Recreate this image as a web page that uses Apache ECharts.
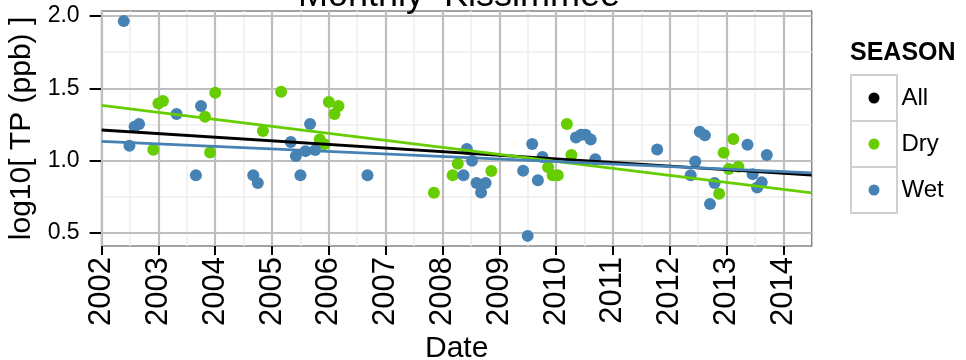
<!DOCTYPE html>
<html>
<head>
<meta charset="utf-8">
<script src="https://cdn.jsdelivr.net/npm/echarts@6/dist/echarts.min.js"></script>
<style>
  html, body { margin: 0; background: #fff; }
  #main { width: 966px; height: 360px; }
</style>
</head>
<body>
<div id="main"></div>
<script>
// tick labels
var yearTicks = [2002, 2003, 2004, 2005, 2006, 2007, 2008, 2009, 2010, 2011, 2012, 2013, 2014];
var yearMinor = [2002.5, 2003.5, 2004.5, 2005.5, 2006.5, 2007.5, 2008.5, 2009.5, 2010.5, 2011.5, 2012.5, 2013.5];
var tpTicks = [0.5, 1.0, 1.5, 2.0];
var tpMinor = [0.75, 1.25, 1.75];

// Wet season samples (decimal year, log10 TP)
var wetDates = [2002.39, 2002.49, 2002.58, 2002.66, 2003.32, 2003.66, 2003.75, 2004.67, 2004.75,
    2005.33, 2005.42, 2005.50, 2005.59, 2005.67, 2005.76, 2006.68,
    2008.37, 2008.43, 2008.52, 2008.60, 2008.68, 2008.76, 2009.42, 2009.50, 2009.58, 2009.68, 2009.76,
    2010.35, 2010.44, 2010.52, 2010.61, 2010.69, 2011.78,
    2012.37, 2012.45, 2012.53, 2012.62, 2012.71, 2012.79, 2013.37, 2013.46, 2013.54, 2013.62, 2013.71];
var wetValues = [1.965, 1.103, 1.234, 1.253, 1.322, 0.90, 1.378, 0.90, 0.845,
    1.129, 1.032, 0.90, 1.066, 1.253, 1.073, 0.90,
    0.90, 1.08, 1.00, 0.845, 0.78, 0.845, 0.93, 0.48, 1.115, 0.865, 1.025,
    1.16, 1.18, 1.18, 1.147, 1.01, 1.078,
    0.90, 0.995, 1.20, 1.175, 0.70, 0.845, 1.11, 0.907, 0.815, 0.85, 1.04];

// Dry season samples
var dryDates = [2002.91, 2003.00, 2003.08, 2003.82, 2003.91, 2004.00, 2004.84, 2005.16,
    2005.84, 2005.92, 2006.00, 2006.10, 2006.17,
    2007.85, 2008.18, 2008.27, 2008.86, 2009.86, 2009.94, 2010.03, 2010.19, 2010.27,
    2012.87, 2012.95, 2013.04, 2013.12, 2013.21];
var dryValues = [1.075, 1.396, 1.412, 1.304, 1.057, 1.47, 1.205, 1.477,
    1.147, 1.113, 1.405, 1.322, 1.378,
    0.778, 0.90, 0.979, 0.928, 0.954, 0.90, 0.90, 1.253, 1.039,
    0.771, 1.055, 0.942, 1.15, 0.958];

// linear trend ends
var trendAll = [[2002, 1.212], [2014.5, 0.900]];
var trendDry = [[2002, 1.382], [2014.5, 0.778]];
var trendWet = [[2002, 1.133], [2014.5, 0.916]];

var zip = function (xs, ys) {
    return xs.map(function (x, i) { return [x, ys[i]]; });
};

// grid lines, drawn as markLines so they can sit on any value
var minorLines = [];
yearMinor.forEach(function (v) { minorLines.push({ xAxis: v }); });
tpMinor.forEach(function (v) { minorLines.push({ yAxis: v }); });
var majorLines = [];
yearTicks.forEach(function (v) { majorLines.push({ xAxis: v }); });
tpTicks.forEach(function (v) { majorLines.push({ yAxis: v }); });

var myChart = echarts.init(document.getElementById('main'));

var option = {
    animation: false,
    textStyle: { fontFamily: 'Liberation Sans' },
    title: [{
        text: 'Monthly  Kissimmee',
        left: 454,
        top: -27,
        textAlign: 'center',
        textStyle: { fontSize: 36, fontWeight: 'normal', color: '#000' }
    }, {
        text: 'SEASON',
        left: 850,
        top: 41,
        padding: 0,
        textStyle: { fontSize: 25, fontWeight: 'bold', color: '#000' }
    }],
    legend: {
        orient: 'vertical',
        left: 868.5,
        top: 75,
        padding: 0,
        itemGap: 0,
        itemWidth: 11,
        itemHeight: 11,
        data: [
            { name: 'All', icon: 'circle' },
            { name: 'Dry', icon: 'circle' },
            { name: 'Wet', icon: 'circle' }
        ],
        textStyle: { fontSize: 24, color: '#000', lineHeight: 46, padding: [0, 0, 0, 17] }
    },
    graphic: [
        { type: 'rect', shape: { x: 851, y: 75, width: 46, height: 46 }, style: { fill: '#fff', stroke: '#d0d0d0', lineWidth: 2 }, z: -1 },
        { type: 'rect', shape: { x: 851, y: 121, width: 46, height: 46 }, style: { fill: '#fff', stroke: '#d0d0d0', lineWidth: 2 }, z: -1 },
        { type: 'rect', shape: { x: 851, y: 167, width: 46, height: 46 }, style: { fill: '#fff', stroke: '#d0d0d0', lineWidth: 2 }, z: -1 }
    ],
    grid: {
        left: 101.6,
        right: 154.3,
        top: 11,
        bottom: 114,
        containLabel: false,
        outerBoundsMode: 'none',
        show: true,
        borderColor: '#858585',
        borderWidth: 1.5,
        backgroundColor: '#fff'
    },
    xAxis: {
        type: 'value',
        min: 2002,
        max: 2014.5,
        name: 'Date',
        nameLocation: 'middle',
        nameGap: 84,
        nameTextStyle: { fontSize: 30, color: '#000' },
        axisLine: { show: false },
        axisTick: { show: true, customValues: yearTicks, length: 9, lineStyle: { color: '#000', width: 2 } },
        axisLabel: {
            customValues: yearTicks,
            rotate: 90,
            margin: 11,
            fontSize: 31,
            color: '#000',
            formatter: function (v) { return String(v); }
        },
        splitLine: { show: false }
    },
    yAxis: {
        type: 'value',
        min: 0.41,
        max: 2.035,
        name: 'log10[ TP (ppb) ]',
        nameLocation: 'middle',
        nameGap: 64,
        nameTextStyle: { fontSize: 30, color: '#000' },
        axisLine: { show: false },
        axisTick: { show: true, customValues: tpTicks, length: 12, lineStyle: { color: '#000', width: 2 } },
        axisLabel: {
            customValues: tpTicks,
            margin: 22,
            fontSize: 23,
            color: '#000',
            formatter: function (v) { return v.toFixed(1); }
        },
        splitLine: { show: false }
    },
    series: [{
        name: 'minorGrid',
        type: 'scatter',
        data: [],
        silent: true,
        markLine: {
            silent: true, z: 1, symbol: ['none', 'none'], label: { show: false },
            lineStyle: { color: '#eeeeee', width: 1.5, type: 'solid', opacity: 1 },
            emphasis: { disabled: true },
            data: minorLines
        }
    }, {
        name: 'majorGrid',
        type: 'scatter',
        data: [],
        silent: true,
        markLine: {
            silent: true, z: 1, symbol: ['none', 'none'], label: { show: false },
            lineStyle: { color: '#bebebe', width: 2.2, type: 'solid', opacity: 1 },
            emphasis: { disabled: true },
            data: majorLines
        }
    }, {
        name: 'Dry',
        type: 'scatter',
        symbolSize: 12,
        itemStyle: { color: '#66cd00', opacity: 1 },
        data: zip(dryDates, dryValues),
        z: 3
    }, {
        name: 'Wet',
        type: 'scatter',
        symbolSize: 12,
        itemStyle: { color: '#4682b4', opacity: 1 },
        data: zip(wetDates, wetValues),
        z: 3
    }, {
        name: 'All',
        type: 'line',
        showSymbol: false,
        color: '#000',
        lineStyle: { color: '#000', width: 2.8 },
        data: trendAll,
        z: 4
    }, {
        name: 'Dry',
        type: 'line',
        showSymbol: false,
        lineStyle: { color: '#66cd00', width: 2.8 },
        data: trendDry,
        z: 4
    }, {
        name: 'Wet',
        type: 'line',
        showSymbol: false,
        lineStyle: { color: '#4682b4', width: 2.8 },
        data: trendWet,
        z: 4
    }]
};

myChart.setOption(option);
</script>
</body>
</html>
